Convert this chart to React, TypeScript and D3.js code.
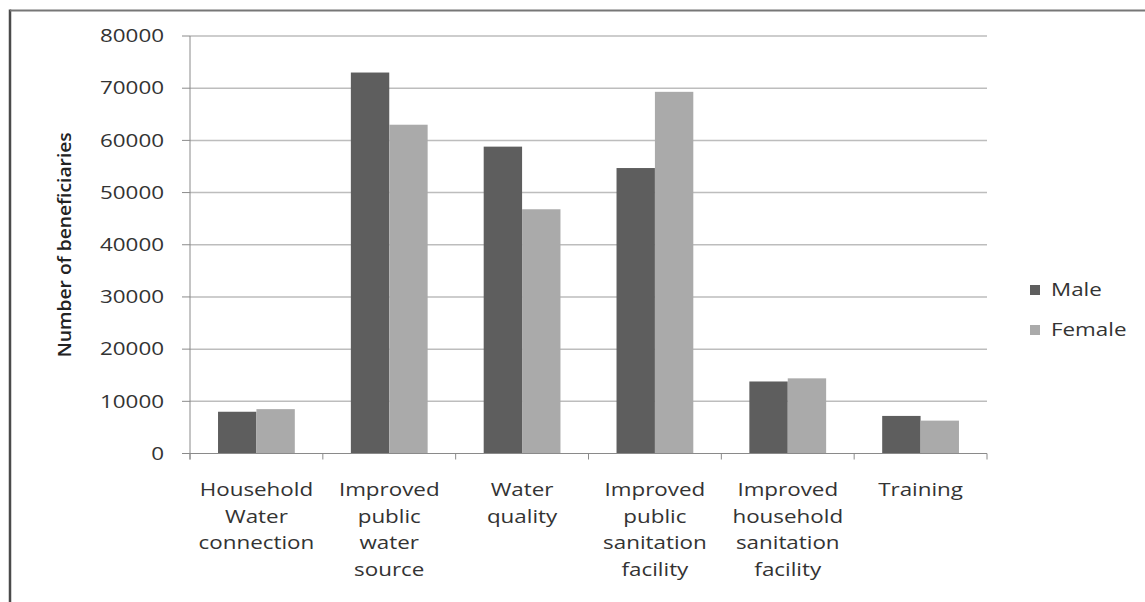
import React, { useEffect, useRef } from "react";
import * as d3 from "d3";

const categories: string[][] = [
  ["Household", "Water", "connection"],
  ["Improved", "public", "water", "source"],
  ["Water", "quality"],
  ["Improved", "public", "sanitation", "facility"],
  ["Improved", "household", "sanitation", "facility"],
  ["Training"],
];
const maleValues = [8000, 73000, 58800, 54700, 13800, 7200];
const femaleValues = [8500, 63000, 46800, 69300, 14400, 6300];
const seriesNames = ["Male", "Female"];
const seriesColors = ["#5e5e5e", "#aaaaaa"];
const yTicks = [0, 10000, 20000, 30000, 40000, 50000, 60000, 70000, 80000];

const W = 1145;
const H = 602;
const FONT = "'Open Sans', Lato, sans-serif";
const SX = 1.28; // horizontal stretch of the label glyphs

export default function App() {
  const ref = useRef<SVGSVGElement>(null);

  useEffect(() => {
    const svg = d3.select(ref.current);
    svg.selectAll("*").remove();

    const left = 190, right = 987, top = 36, bottom = 453.5;
    const ids = categories.map((_, i) => String(i));

    const x = d3.scaleBand<string>().domain(ids).range([left, right]).paddingInner(0).paddingOuter(0);
    const inner = d3.scaleBand<string>().domain(seriesNames).range([0, x.bandwidth()]).paddingInner(0).paddingOuter(0.73);
    const y = d3.scaleLinear().domain([0, 80000]).range([bottom, top]);

    // outer frame (left and top edges)
    svg.append("line").attr("x1", 10).attr("x2", 10).attr("y1", 9.5).attr("y2", H)
      .attr("stroke", "#4a4a4a").attr("stroke-width", 2.5);
    svg.append("line").attr("x1", 10).attr("x2", W).attr("y1", 10.5).attr("y2", 10.5)
      .attr("stroke", "#777").attr("stroke-width", 2);

    // gridlines
    svg.append("g").selectAll("line").data(yTicks.filter(t => t > 0)).join("line")
      .attr("x1", left).attr("x2", right)
      .attr("y1", d => y(d)).attr("y2", d => y(d))
      .attr("stroke", "#bdbdbd").attr("stroke-width", 1.5);

    // bars
    const data = [maleValues, femaleValues];
    data.forEach((vals, si) => {
      svg.append("g").selectAll("rect").data(vals).join("rect")
        .attr("x", (_, i) => (x(ids[i]) as number) + (inner(seriesNames[si]) as number))
        .attr("width", inner.bandwidth())
        .attr("y", d => y(d))
        .attr("height", d => y(0) - y(d))
        .attr("fill", seriesColors[si]);
    });

    // y axis line and ticks
    svg.append("line").attr("x1", left).attr("x2", left).attr("y1", top).attr("y2", bottom + 6)
      .attr("stroke", "#8a8a8a");
    svg.append("g").selectAll("line").data(yTicks).join("line")
      .attr("x1", left - 8).attr("x2", left)
      .attr("y1", d => y(d)).attr("y2", d => y(d))
      .attr("stroke", "#8a8a8a");
    svg.append("g").selectAll("text").data(yTicks).join("text")
      .attr("transform", d => `translate(164,${y(d)}) scale(${SX},1)`)
      .attr("text-anchor", "end").attr("dy", "0.36em")
      .attr("font-family", FONT).attr("font-size", 17.5).attr("fill", "#333")
      .text(d => d3.format("d")(d));

    // x axis baseline and category ticks
    svg.append("line").attr("x1", left - 8).attr("x2", right).attr("y1", bottom).attr("y2", bottom)
      .attr("stroke", "#8a8a8a");
    svg.append("g").selectAll("line").data(d3.range(categories.length + 1)).join("line")
      .attr("x1", i => left + i * x.step()).attr("x2", i => left + i * x.step())
      .attr("y1", bottom).attr("y2", bottom + 6)
      .attr("stroke", "#8a8a8a");

    // category labels
    const lab = svg.append("g").selectAll("g").data(categories).join("g")
      .attr("transform", (_, i) => `translate(${(x(ids[i]) as number) + x.bandwidth() / 2},0) scale(${SX},1)`);
    lab.each(function (lines) {
      d3.select(this).selectAll("text").data(lines).join("text")
        .attr("text-anchor", "middle")
        .attr("font-family", FONT).attr("font-size", 17.5).attr("fill", "#333")
        .attr("x", 0).attr("y", (_, j) => 496 + j * 26.7).text(d => d);
    });

    // y title
    svg.append("text")
      .attr("transform", `translate(71,${(top + bottom) / 2}) rotate(-90)`)
      .attr("text-anchor", "middle")
      .attr("font-family", FONT).attr("font-weight", 600).attr("font-size", 18.5)
      .attr("textLength", 225).attr("lengthAdjust", "spacingAndGlyphs")
      .attr("fill", "#222")
      .text("Number of beneficiaries");

    // legend
    const lg = svg.append("g").selectAll("g").data(seriesNames).join("g")
      .attr("transform", (_, i) => `translate(1030,${290 + i * 40})`);
    lg.append("rect").attr("x", 0).attr("y", -5).attr("width", 10).attr("height", 10)
      .attr("fill", (_, i) => seriesColors[i]);
    lg.append("text").attr("transform", `translate(21,0) scale(${SX},1)`).attr("dy", "0.36em")
      .attr("font-family", FONT).attr("font-size", 17.5).attr("fill", "#333")
      .text(d => d);
  }, []);

  return (
    <svg ref={ref} width={W} height={H} style={{ position: "absolute", left: 0, top: 0, background: "#fff" }} />
  );
}
